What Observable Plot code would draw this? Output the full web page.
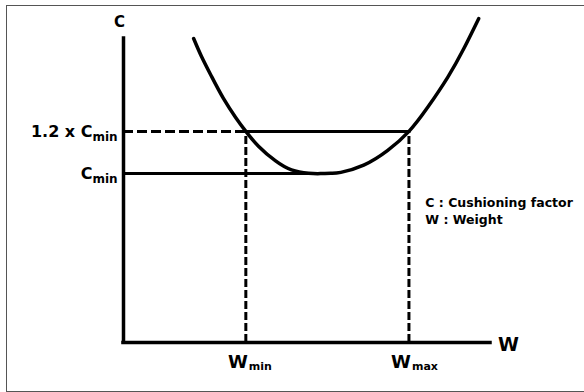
<!DOCTYPE html>
<html><head><meta charset="utf-8">
<script src="https://cdn.jsdelivr.net/npm/d3@7"></script>
<script src="https://cdn.jsdelivr.net/npm/@observablehq/plot@0.6"></script>
<style>
body{margin:0;background:#fff;}
#wrap{position:relative;width:584px;height:392px;overflow:hidden;}
#frame{position:absolute;left:6px;top:5px;width:600px;height:385px;border:1.5px solid #555;pointer-events:none;}
</style></head><body><div id="wrap"><div id="frame"></div></div>
<script>
// Cushioning curve C(W)
const curveW = [1.72, 1.91, 2.16, 2.45, 2.75, 3.0, 3.31, 3.73, 4.12, 4.54, 4.83, 5.08, 5.33, 5.89, 6.48, 7.0, 7.46, 7.95, 8.34, 8.71];
const curveC = [7.20, 6.78, 6.30, 5.78, 5.33, 5.0, 4.65, 4.30, 4.09, 4.01, 4.0, 4.01, 4.03, 4.20, 4.55, 5.0, 5.57, 6.28, 6.95, 7.67];
const wMin = 3, wMax = 7;
const cMin = 4, cLimit = 5;
const cTop = 7.2, wEnd = 9;
const yTickValues = [cLimit, cMin];
const yTickLabels = ["1.2 x C", "C"];
const ySubLabels = ["min", "min"];
const xTickValues = [wMin, wMax];
const xTickLabels = ["W", "W"];
const xSubLabels = ["min", "max"];
const axisNames = ["C", "W"];
const legendLines = ["C : Cushioning factor", "W : Weight"];
const legendW = 7.4;
const legendC = [3.3, 2.9];

const curve = curveW.map((w, i) => ({w, c: curveC[i]}));
const cMinW = curve.reduce((a, b) => (b.c < a.c ? b : a)).w;
const yTicks = yTickValues.map((c, i) => ({c, label: yTickLabels[i], sub: ySubLabels[i]}));
const xTicks = xTickValues.map((w, i) => ({w, label: xTickLabels[i], sub: xSubLabels[i]}));
const legend = legendLines.map((t, i) => ({w: legendW, c: legendC[i], t}));

const font = {fontFamily: "DejaVu Sans", fontWeight: "bold", fill: "#000"};

const chart = Plot.plot({
  width: 584, height: 392,
  marginLeft: 123, marginRight: 94, marginTop: 38, marginBottom: 50,
  x: {domain: [0, wEnd], axis: null},
  y: {domain: [0, cTop], axis: null},
  style: {background: "transparent", color: "#000", overflow: "visible"},
  marks: [
    // dashed reference lines
    Plot.ruleY([{c: cLimit, x1: 0, x2: wMin}], {y: "c", x1: "x1", x2: "x2", strokeWidth: 3, strokeDasharray: "10,4"}),
    Plot.ruleX(xTicks, {x: "w", y1: 0, y2: cLimit, strokeWidth: 3, strokeDasharray: "8,3"}),
    // solid reference lines
    Plot.ruleY([{c: cLimit, x1: wMin, x2: wMax}], {y: "c", x1: "x1", x2: "x2", strokeWidth: 3}),
    Plot.ruleY([{c: cMin, x1: 0, x2: cMinW}], {y: "c", x1: "x1", x2: "x2", strokeWidth: 3}),
    // curve
    Plot.line(curve, {x: "w", y: "c", curve: "natural", strokeWidth: 3.5, strokeLinecap: "round"}),
    // axes
    Plot.ruleX([{w: 0, y1: 0, y2: cTop}], {x: "w", y1: "y1", y2: "y2", strokeWidth: 3.5, strokeLinecap: "square"}),
    Plot.ruleY([{c: 0, x1: 0, x2: wEnd}], {y: "c", x1: "x1", x2: "x2", strokeWidth: 3.5, strokeLinecap: "square"}),
    // axis names
    Plot.text([{w: 0, c: cTop, t: axisNames[0]}], {x: "w", y: "c", text: "t", dx: -4, dy: -16, fontSize: 15, ...font}),
    Plot.text([{w: wEnd, c: 0, t: axisNames[1]}], {x: "w", y: "c", text: "t", dx: 18, dy: 2, fontSize: 19, ...font}),
    // y tick labels with subscripts
    Plot.text(yTicks, {x: () => 0, y: "c", text: "label", textAnchor: "end", dx: -31, dy: 0, fontSize: 16, ...font}),
    Plot.text(yTicks, {x: () => 0, y: "c", text: "sub", textAnchor: "start", dx: -31, dy: 6, fontSize: 12, ...font}),
    // x tick labels with subscripts
    Plot.text(xTicks, {x: "w", y: () => 0, text: "label", textAnchor: "end", dx: 2, dy: 20, fontSize: 18, ...font}),
    Plot.text(xTicks, {x: "w", y: () => 0, text: "sub", textAnchor: "start", dx: 3, dy: 24, fontSize: 11, ...font}),
    // legend
    Plot.text(legend, {x: "w", y: "c", text: "t", textAnchor: "start", fontSize: 12.5, ...font})
  ]
});
document.getElementById("wrap").prepend(chart);
</script></body></html>
